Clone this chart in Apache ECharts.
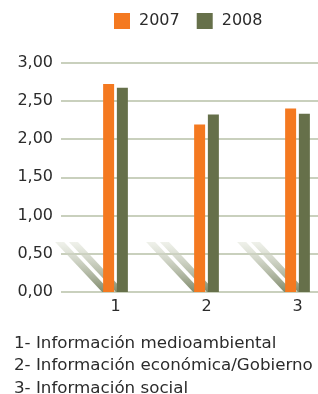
<!DOCTYPE html>
<html>
<head>
    <meta charset="utf-8">
    <title>Información</title>
    <script src="https://cdn.jsdelivr.net/npm/echarts@6/dist/echarts.min.js"></script>
</head>
<body style="margin: 0">
<div id="container" style="width: 318px; height: 394px"></div>
<script type="text/javascript">
// datos
var categories = ['1', '2', '3'];
var years = ['2007', '2008'];
var values2007 = [2.72, 2.19, 2.40];
var values2008 = [2.67, 2.32, 2.33];
var notes = [
    '1- Información medioambiental',
    '2- Información económica/Gobierno',
    '3- Información social'
];
var yTicks = [0, 0.5, 1, 1.5, 2, 2.5, 3];

var orange = '#f47920';
var green = '#66704a';
var gridColor = '#c9d0bd';
var font = 'DejaVu Sans, sans-serif';

var myChart = echarts.init(document.getElementById('container'));

// sombras diagonales detras de cada barra
function renderShadow(params, api) {
    var idx = api.value(0);
    var p = api.coord([idx, 0]);
    var children = [];
    [-6.9, 6.9].forEach(function (off) {
        var xl = p[0] + off - 5.5;
        var y0 = p[1];
        children.push({
            type: 'polygon',
            shape: {
                points: [[xl - 1, y0], [xl + 8, y0], [xl + 8 - 47, y0 - 50], [xl - 1 - 47, y0 - 50]]
            },
            style: {
                fill: new echarts.graphic.LinearGradient(0, 0, 0, 1, [
                    {offset: 0, color: 'rgba(229,232,221,0.6)'},
                    {offset: 1, color: 'rgba(128,139,108,1)'}
                ])
            }
        });
    });
    return {type: 'group', children: children};
}

var option = {
    animation: false,
    title: {
        text: notes.join('\n'),
        left: 14,
        top: 332,
        padding: 0,
        textStyle: {
            fontFamily: font,
            fontSize: 16.7,
            fontWeight: 'normal',
            color: '#2b2b2b',
            lineHeight: 22.5
        }
    },
    legend: {
        data: years,
        left: 114,
        top: 13,
        padding: 0,
        itemWidth: 16,
        itemHeight: 16,
        itemGap: 17,
        icon: 'rect',
        textStyle: {
            fontFamily: font,
            fontSize: 16,
            color: '#2b2b2b',
            padding: [0, 0, 0, 4]
        }
    },
    grid: [
        {left: 61, right: 0, top: 62.5, bottom: 102, outerBoundsMode: 'none'},
        {left: 70, width: 273, top: 62.5, bottom: 102, outerBoundsMode: 'none'}
    ],
    xAxis: [
        {gridIndex: 0, type: 'value', show: false},
        {
            gridIndex: 1,
            type: 'category',
            data: categories,
            axisLine: {show: false},
            axisTick: {show: false},
            axisLabel: {
                margin: 7,
                fontFamily: font,
                fontSize: 16,
                color: '#2b2b2b'
            }
        }
    ],
    yAxis: [
        {
            gridIndex: 0,
            type: 'value',
            min: yTicks[0],
            max: yTicks[yTicks.length - 1],
            interval: 0.5,
            axisLine: {show: false},
            axisTick: {show: false},
            axisLabel: {
                margin: 8,
                fontFamily: font,
                fontSize: 16,
                color: '#2b2b2b',
                formatter: function (v) { return v.toFixed(2).replace('.', ','); }
            },
            splitLine: {lineStyle: {color: gridColor, width: 2}}
        },
        {
            gridIndex: 1,
            type: 'value',
            min: yTicks[0],
            max: yTicks[yTicks.length - 1],
            interval: 0.5,
            show: false
        }
    ],
    series: [
        {
            type: 'custom',
            xAxisIndex: 1,
            yAxisIndex: 1,
            renderItem: renderShadow,
            data: categories.map(function (c, i) { return [i, 0]; }),
            silent: true,
            z: 1
        },
        {
            name: years[0],
            type: 'bar',
            xAxisIndex: 1,
            yAxisIndex: 1,
            data: values2007,
            barWidth: 11,
            barGap: '25%',
            itemStyle: {color: orange},
            z: 3
        },
        {
            name: years[1],
            type: 'bar',
            xAxisIndex: 1,
            yAxisIndex: 1,
            data: values2008,
            barWidth: 11,
            itemStyle: {color: green},
            z: 3
        }
    ]
};
myChart.setOption(option);
</script>
</body>
</html>
